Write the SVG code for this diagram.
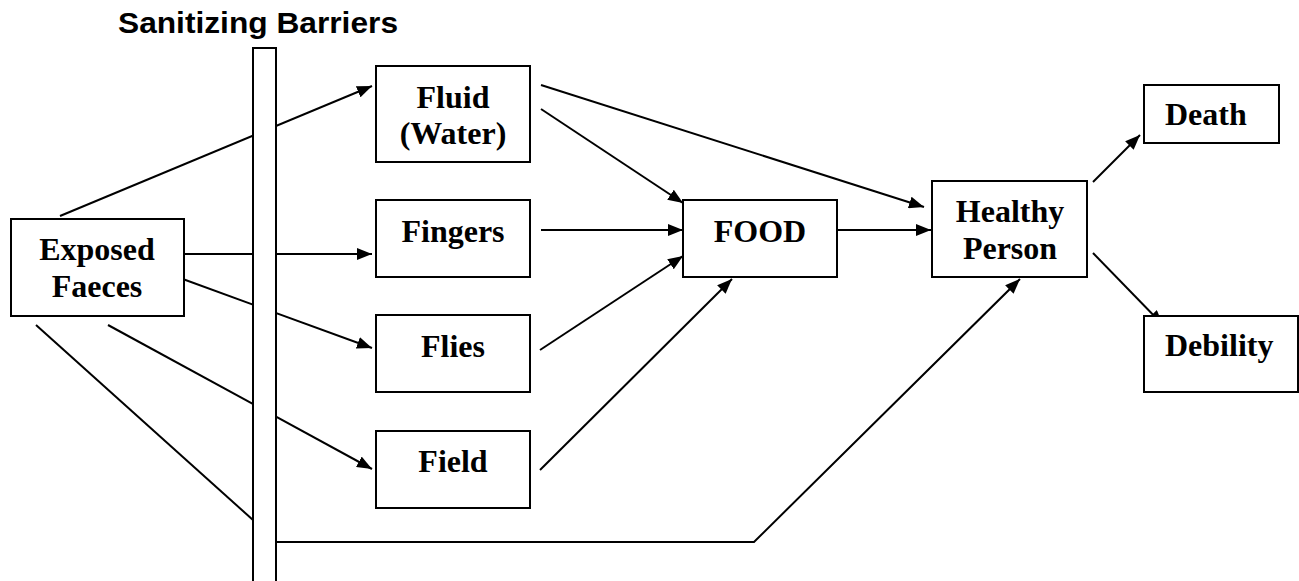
<svg xmlns="http://www.w3.org/2000/svg" width="1299" height="581" viewBox="0 0 1299 581">
<style>
.box{fill:#fff;stroke:#000;stroke-width:2}
.lbl{font-family:"Liberation Serif","Times New Roman",serif;font-weight:bold;font-size:32px;fill:#000}
.c{text-anchor:middle}
.ln{fill:none;stroke:#000;stroke-width:2}
.title{font-family:"Liberation Sans",Arial,sans-serif;font-weight:bold;font-size:30px;fill:#000}
</style>
<defs>
<marker id="ah" markerUnits="userSpaceOnUse" markerWidth="16" markerHeight="12" refX="15" refY="6" orient="auto">
<path d="M0,0 L15,6 L0,12 z" fill="#000"/>
</marker>
</defs>
<rect width="1299" height="581" fill="#fff"/>
<text class="title" x="118" y="33" textLength="280" lengthAdjust="spacingAndGlyphs">Sanitizing Barriers</text>
<g id="connectors">
<line class="ln" x1="60" y1="216" x2="372" y2="86" marker-end="url(#ah)"/>
<line class="ln" x1="180" y1="254" x2="372" y2="254" marker-end="url(#ah)"/>
<line class="ln" x1="180" y1="278" x2="372" y2="348" marker-end="url(#ah)"/>
<line class="ln" x1="108" y1="325" x2="372" y2="469" marker-end="url(#ah)"/>
<line class="ln" x1="36" y1="325" x2="253" y2="520"/>
<polyline class="ln" points="276,542 754,542 1020,279" marker-end="url(#ah)"/>
<line class="ln" x1="541" y1="109" x2="683" y2="203" marker-end="url(#ah)"/>
<line class="ln" x1="541" y1="230" x2="683" y2="230" marker-end="url(#ah)"/>
<line class="ln" x1="540" y1="350" x2="683" y2="256" marker-end="url(#ah)"/>
<line class="ln" x1="540" y1="470" x2="732" y2="279" marker-end="url(#ah)"/>
<line class="ln" x1="541" y1="85" x2="924" y2="207" marker-end="url(#ah)"/>
<line class="ln" x1="828" y1="230" x2="931" y2="230" marker-end="url(#ah)"/>
<line class="ln" x1="1093" y1="182" x2="1140" y2="135" marker-end="url(#ah)"/>
<line class="ln" x1="1093" y1="253" x2="1163" y2="325" marker-end="url(#ah)"/>
</g>
<g id="barrier">
<rect class="box" x="253" y="48" width="23" height="540"/>
</g>
<g id="exposed-faeces">
<rect class="box" x="11" y="219" width="173" height="97"/>
<text class="lbl c" x="97" y="260">Exposed</text>
<text class="lbl c" x="97" y="297">Faeces</text>
</g>
<g id="fluid">
<rect class="box" x="376" y="66" width="154" height="96"/>
<text class="lbl c" x="453" y="108">Fluid</text>
<text class="lbl c" x="453" y="144">(Water)</text>
</g>
<g id="fingers">
<rect class="box" x="376" y="200" width="154" height="77"/>
<text class="lbl c" x="453" y="242">Fingers</text>
</g>
<g id="flies">
<rect class="box" x="376" y="315" width="154" height="77"/>
<text class="lbl c" x="453" y="357">Flies</text>
</g>
<g id="field">
<rect class="box" x="376" y="431" width="154" height="77"/>
<text class="lbl c" x="453" y="472">Field</text>
</g>
<g id="food">
<rect class="box" x="683" y="200" width="154" height="77"/>
<text class="lbl c" x="760" y="242">FOOD</text>
</g>
<g id="healthy-person">
<rect class="box" x="932" y="181" width="155" height="96"/>
<text class="lbl c" x="1010" y="222">Healthy</text>
<text class="lbl c" x="1010" y="259">Person</text>
</g>
<g id="death">
<rect class="box" x="1144" y="85" width="135" height="58"/>
<text class="lbl" x="1165" y="125">Death</text>
</g>
<g id="debility">
<rect class="box" x="1144" y="316" width="154" height="76"/>
<text class="lbl" x="1165" y="356">Debility</text>
</g>
</svg>
